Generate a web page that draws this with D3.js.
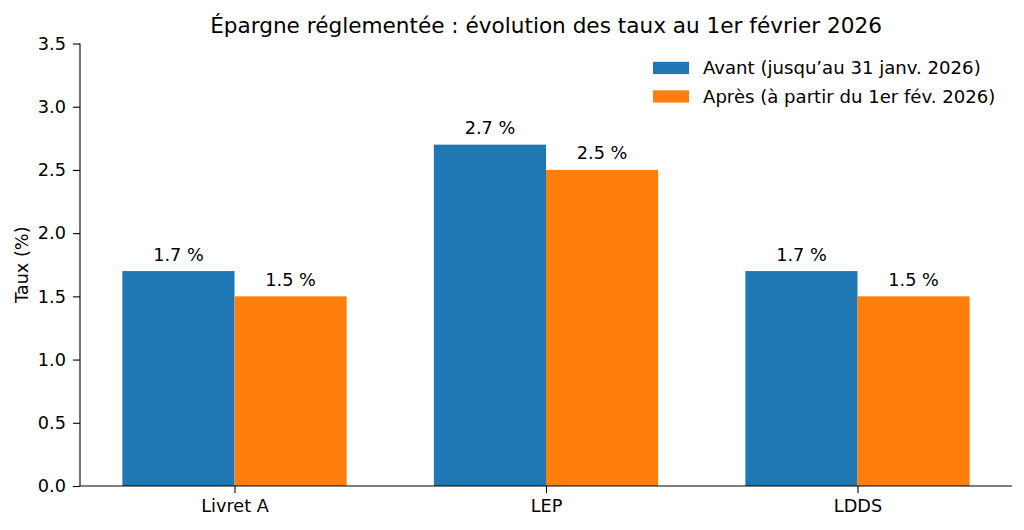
<!DOCTYPE html>
<html><head><meta charset="utf-8">
<script src="https://cdn.jsdelivr.net/npm/d3@7"></script>
<style>body{margin:0;background:#fff}svg{display:block}text{font-family:"DejaVu Sans",sans-serif;fill:#000}</style>
</head><body>
<script>
const categories = ["Livret A", "LEP", "LDDS"];
const seriesNames = ["Avant (jusqu’au 31 janv. 2026)", "Après (à partir du 1er fév. 2026)"];
const avant = [1.7, 2.7, 1.7];
const apres = [1.5, 2.5, 1.5];
const yTicks = [0, 0.5, 1.0, 1.5, 2.0, 2.5, 3.0, 3.5];
const colors = ["#1f77b4", "#ff7f0e"];
const title = "Épargne réglementée : évolution des taux au 1er février 2026";

(function () {
const W = 1024, H = 530;
const svg = d3.select("body").append("svg").attr("width", W).attr("height", H);
const mL = 80, mR = 1012, mT = 43.5, mB = 486;
const bw = 0.36;
const x = d3.scaleLinear().domain([-bw - 0.136, 2 + bw + 0.136]).range([mL, mR]);
const y = d3.scaleLinear().domain([0, 3.5]).range([mB, mT]);
const fs = 17.7;

const series = [avant, apres];
series.forEach((vals, si) => {
  const g = svg.append("g");
  vals.forEach((v, i) => {
    const x0 = si === 0 ? x(i - bw) : x(i);
    const x1 = si === 0 ? x(i) : x(i + bw);
    g.append("rect").attr("x", x0).attr("y", y(v)).attr("width", x1 - x0).attr("height", y(0) - y(v)).attr("fill", colors[si]);
    g.append("text").attr("x", (x0 + x1) / 2).attr("y", y(v) - 10.5).attr("text-anchor", "middle")
      .attr("font-size", fs).text(v.toFixed(1) + " %");
  });
});

const ya = svg.append("g").attr("transform", `translate(${mL},0)`)
  .call(d3.axisLeft(y).tickValues(yTicks).tickFormat(d3.format(".1f")).tickSize(7).tickPadding(7));
ya.selectAll("text").attr("font-size", fs).attr("font-family", "DejaVu Sans");
ya.select(".domain").attr("d", `M-0,${mB}V${mT}`);
const xa = svg.append("g").attr("transform", `translate(0,${mB})`)
  .call(d3.axisBottom(x).tickValues([0, 1, 2]).tickFormat((d) => categories[d]).tickSize(7).tickPadding(6.3));
xa.selectAll("text").attr("font-size", fs).attr("font-family", "DejaVu Sans");
xa.select(".domain").attr("d", `M${mL},0H${mR}`);
svg.selectAll(".domain, .tick line").attr("stroke", "#000").attr("stroke-width", 1.1);

svg.append("text").attr("transform", `translate(28,${(mT + mB) / 2}) rotate(-90)`)
  .attr("text-anchor", "middle").attr("font-size", fs).text("Taux (%)");
svg.append("text").attr("x", (mL + mR) / 2).attr("y", 33).attr("text-anchor", "middle")
  .attr("font-size", 21.6).text(title);

const lg = svg.append("g");
seriesNames.forEach((n, i) => {
  const cy = 68 + i * 28.5;
  lg.append("rect").attr("x", 653).attr("y", cy - 6.2).attr("width", 36).attr("height", 12.3).attr("fill", colors[i]);
  lg.append("text").attr("x", 703).attr("y", cy + 6.3).attr("font-size", 18.1).text(n);
});
})();
</script>
</body></html>
